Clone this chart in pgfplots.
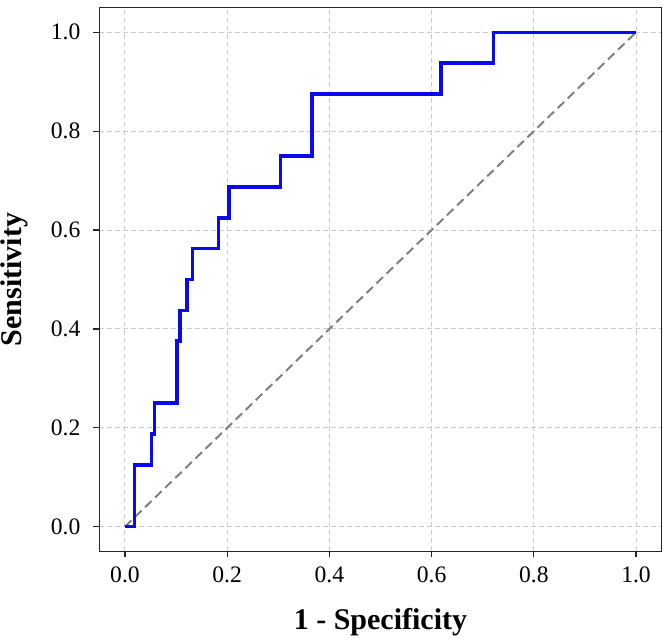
\documentclass[border=0pt]{standalone}
\usepackage{fontspec}
\setmainfont{Liberation Serif}
\usepackage{pgfplots}
\pgfplotsset{compat=1.18}

\definecolor{gridgray}{RGB}{204,204,204}
\definecolor{refgray}{RGB}{128,128,128}
\definecolor{rocblue}{RGB}{10,10,235}

\begin{document}
\begin{tikzpicture}
\useasboundingbox (0,0) rectangle (332.5pt,319.5pt);
\begin{axis}[
  at={(49.7pt,43.8pt)}, anchor=south west,
  scale only axis,
  width=281.1pt, height=271.9pt,
  xmin=-0.05, xmax=1.05, ymin=-0.05, ymax=1.05,
  xtick={0,0.2,...,1.0}, ytick={0,0.2,...,1.0},
  /pgf/number format/fixed,
  /pgf/number format/fixed zerofill,
  /pgf/number format/precision=1,
  /pgf/number format/assume math mode=true,
  yticklabel style={xshift=-3pt},
  xticklabel style={yshift=-1pt},
  tick label style={font=\fontsize{11.8}{14}\selectfont},
  tick align=outside, major tick length=3pt,
  xtick pos=bottom, ytick pos=left,
  axis line style={black!85, line width=0.7pt},
  every tick/.style={black!85, line width=0.6pt},
  grid=major,
  major grid style={gridgray, line width=0.5pt, dash pattern=on 2.5pt off 1.5pt},
  xlabel={\textbf{1 - Specificity}},
  ylabel={\textbf{Sensitivity}},
  label style={font=\fontsize{15}{18}\selectfont},
  xlabel style={at={(axis description cs:0.5,-0.1445)}, anchor=base},
  ylabel style={at={(axis description cs:-0.1377,0.5)}, anchor=base},
]
% chance line
\addplot[refgray, line width=1pt, dash pattern=on 4.5pt off 2.5pt] coordinates {(0,0) (1,1)};
% empirical ROC curve
\addplot[rocblue, line width=1.8pt, const plot mark left, line join=miter] coordinates {
  (0,0)
  (0.019,0.125)
  (0.052,0.1875)
  (0.058,0.25)
  (0.102,0.375)
  (0.108,0.4375)
  (0.121,0.5)
  (0.132,0.5625)
  (0.183,0.625)
  (0.203,0.6875)
  (0.304,0.75)
  (0.366,0.875)
  (0.618,0.9375)
  (0.721,1.0)
  (1.0,1.0)
};
\end{axis}
\end{tikzpicture}
\end{document}
